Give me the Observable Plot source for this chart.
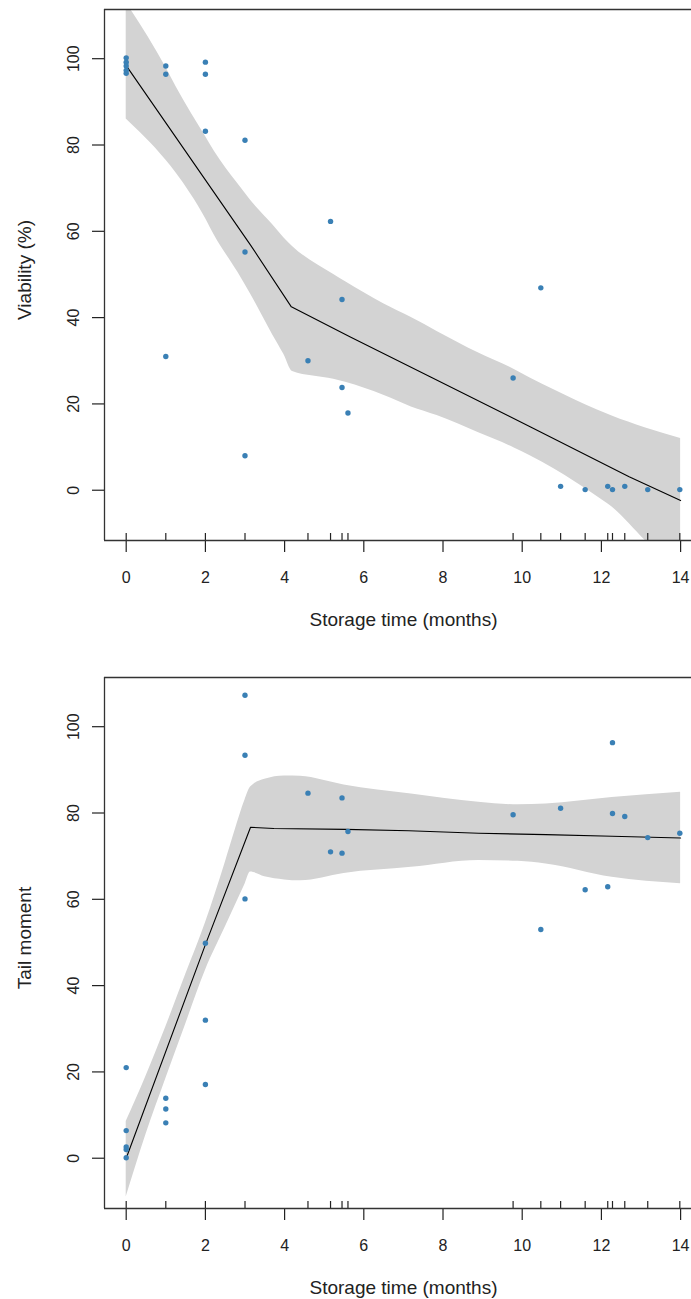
<!DOCTYPE html>
<html>
<head>
<meta charset="utf-8">
<script src="https://cdn.jsdelivr.net/npm/d3@7"></script>
<script src="https://cdn.jsdelivr.net/npm/@observablehq/plot@0.6"></script>
<style>
  html, body { margin: 0; padding: 0; background: #fff; overflow: hidden; }
  #chart svg { display: block; }
</style>
</head>
<body>
<div id="chart"></div>
<script>
// ---- axes ----
const xDomain = [-0.548, 14.275];
const yDomain = [-11.65, 111.4];
const xTicks = [0, 2, 4, 6, 8, 10, 12, 14];
const yTicks = [0, 20, 40, 60, 80, 100];
const xTitle = "Storage time (months)";
const yTitleTop = "Viability (%)";
const yTitleBottom = "Tail moment";

// ---- observations ----
const monthsV = [0, 0, 0, 0, 0, 1, 1, 1, 2, 2, 2, 3, 3, 3, 4.59, 5.16, 5.45, 5.45, 5.6, 9.77, 10.47, 10.97, 11.59, 12.16, 12.28, 12.59, 13.17, 13.98];
const viability = [100.2, 99.2, 98.3, 97.3, 96.6, 98.3, 96.4, 31.0, 99.2, 96.4, 83.2, 81.1, 55.2, 8.0, 30.0, 62.3, 44.2, 23.8, 17.9, 26.0, 46.9, 0.9, 0.15, 0.9, 0.15, 0.9, 0.15, 0.15];

const monthsT = [0, 0, 0, 0, 0, 1, 1, 1, 2, 2, 2, 3, 3, 3, 4.59, 5.16, 5.45, 5.45, 5.6, 9.77, 10.47, 10.97, 11.59, 12.16, 12.28, 12.28, 12.59, 13.17, 13.98];
const tailMoment = [21.0, 6.4, 2.6, 2.0, 0.1, 13.9, 11.4, 8.2, 49.8, 32.0, 17.1, 107.3, 93.4, 60.1, 84.6, 71.0, 83.5, 70.7, 75.7, 79.6, 53.0, 81.1, 62.2, 62.9, 96.3, 79.9, 79.2, 74.3, 75.3];

// ---- fitted curves ----
const fitVx = [0, 3.14, 4.17, 5.66, 7.7, 10.2, 12.7, 14];
const fitV = [98.4, 56.8, 42.5, 35.5, 26.2, 14.7, 3.1, -2.4];

const bandVx = [0, 1, 1.26, 2, 2.23, 2.82, 3.14, 3.7, 3.98, 4.2, 5.24, 5.54, 6.5, 7.2, 7.85, 8.9, 9.8, 10.2, 10.8, 11.9, 12.27, 13.1, 14];
const bandVlo = [86, 76.5, 73.5, 63, 59, 50.5, 45.5, 36, 31.5, 27.5, 25.7, 25, 22, 19.3, 17.3, 13.3, 9.8, 8, 5, -1.5, -3.9, -11.6, -20];
const bandVhi = [113, 98, 93.5, 82, 78.5, 71, 67.2, 61.5, 58.5, 56.5, 50, 48.3, 43.2, 40, 36.8, 31.8, 28, 26, 23.3, 18.6, 17.2, 14.5, 12];

const fitTx = [0, 2, 3.14, 3.73, 5.54, 7.14, 8.9, 10.6, 12.27, 14];
const fitT = [0, 49.5, 76.7, 76.4, 76.2, 75.9, 75.3, 75.0, 74.6, 74.2];

const bandTx = [0, 0.5, 1, 1.5, 2, 2.5, 2.75, 3, 3.14, 3.5, 4, 4.4, 5.5, 7.2, 8.9, 9.9, 10.6, 12.27, 14];
const bandTlo = [-9, 5.5, 18.4, 31, 43.5, 53.5, 58.5, 63.5, 66.3, 65.2, 64.5, 64.3, 66, 67.4, 69, 68.8, 68.2, 65.1, 63.6];
const bandThi = [8.5, 19, 30.4, 42.5, 54.5, 68.5, 76, 83, 86, 87.8, 88.6, 88.5, 86.5, 84.4, 82.5, 81.9, 82.1, 83.6, 84.8];

// ---- build tables ----
const zipPts = (xs, ys) => xs.map((x, i) => ({x, y: ys[i]}));
const zipBand = (xs, lo, hi) => xs.map((x, i) => ({x, lo: lo[i], hi: hi[i]}));

const POINT = "#3a80b5";
const BAND = "#d3d3d3";
const INK = "#222";
const FONT = "'Liberation Sans', Arial, sans-serif";

function panel({pts, fit, band, rug, yTitle, height, marginTop, marginBottom}) {
  const frameH = height - marginTop - marginBottom;
  return Plot.plot({
    width: 691,
    height,
    marginTop,
    marginBottom,
    marginLeft: 104,
    marginRight: 0,
    x: {domain: xDomain},
    y: {domain: yDomain},
    style: {fontFamily: FONT, fontSize: "16px", color: INK, background: "#fff", overflow: "visible"},
    marks: [
      Plot.areaY(band, {x: "x", y1: "lo", y2: "hi", fill: BAND, curve: "monotone-x", clip: true}),
      Plot.line(fit, {x: "x", y: "y", stroke: "#000", strokeWidth: 1.1, clip: true}),
      Plot.dot(pts, {x: "x", y: "y", r: 2.7, fill: POINT, stroke: "none"}),
      Plot.tickX(rug, {x: d => d, insetTop: frameH - 7, stroke: INK, strokeWidth: 1.2}),
      Plot.axisX({ticks: xTicks, tickSize: 12, tickPadding: 19, label: null, fontSize: 16, strokeWidth: 1.2}),
      Plot.axisY({ticks: yTicks, tickSize: 12, tickPadding: 14, tickRotate: -90, label: null, fontSize: 16, strokeWidth: 1.2}),
      Plot.ruleY([yDomain[1]], {stroke: "#333", strokeWidth: 1.3}),
      Plot.ruleY([yDomain[0]], {stroke: "#333", strokeWidth: 1.3}),
      Plot.ruleX([xDomain[0]], {stroke: "#333", strokeWidth: 1.3}),
      Plot.text([xTitle], {text: d => d, frameAnchor: "bottom", textAnchor: "middle", dy: 85, dx: 5.5, lineAnchor: "bottom", fontSize: 19, fill: INK}),
      Plot.text([yTitle], {text: d => d, frameAnchor: "left", textAnchor: "middle", rotate: -90, dx: -74, dy: -5, lineAnchor: "bottom", fontSize: 19, fill: INK})
    ]
  });
}

const rugV = Array.from(new Set(monthsV));
const rugT = Array.from(new Set(monthsT));

const topPanel = panel({
  pts: zipPts(monthsV, viability),
  fit: zipPts(fitVx, fitV),
  band: zipBand(bandVx, bandVlo, bandVhi),
  rug: rugV,
  yTitle: yTitleTop,
  height: 650, marginTop: 9, marginBottom: 110
});
const bottomPanel = panel({
  pts: zipPts(monthsT, tailMoment),
  fit: zipPts(fitTx, fitT),
  band: zipBand(bandTx, bandTlo, bandThi),
  rug: rugT,
  yTitle: yTitleBottom,
  height: 649, marginTop: 27, marginBottom: 91
});
document.getElementById("chart").append(topPanel, bottomPanel);
</script>
</body>
</html>
